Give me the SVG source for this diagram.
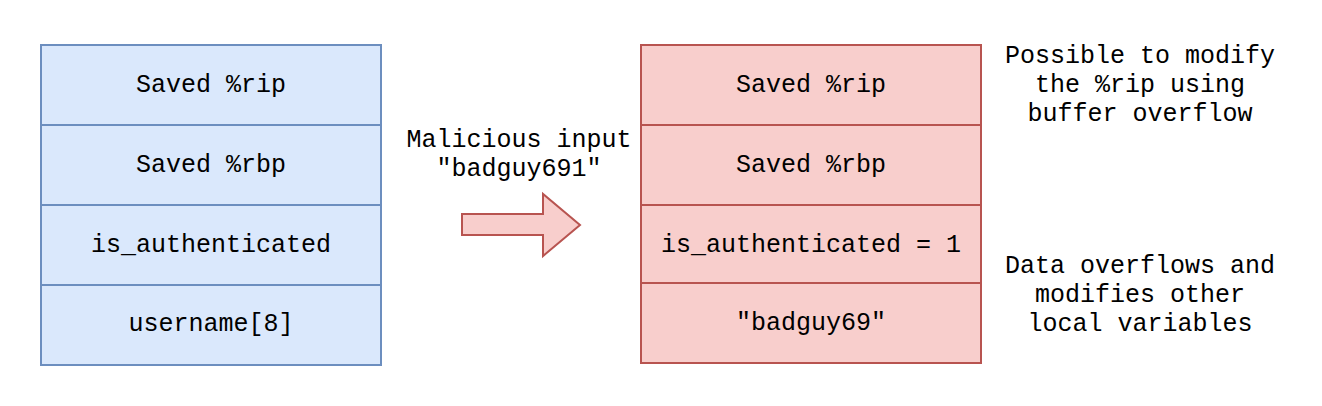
<svg xmlns="http://www.w3.org/2000/svg" width="1322" height="406" viewBox="0 0 1322 406">
<style>
.blue{fill:#dae8fc;stroke:#6c8ebf;stroke-width:2}
.red{fill:#f8cecc;stroke:#b85450;stroke-width:2}
text{font-family:"Liberation Mono","DejaVu Sans Mono",monospace;font-size:25px;fill:#000;text-anchor:middle}
</style>
<rect width="1322" height="406" fill="#ffffff"/>
<g id="stack-before">
<rect class="blue" x="41" y="45" width="340" height="80"/>
<rect class="blue" x="41" y="125" width="340" height="80"/>
<rect class="blue" x="41" y="205" width="340" height="80"/>
<rect class="blue" x="41" y="285" width="340" height="80"/>
<text x="211" y="92">Saved %rip</text>
<text x="211" y="172">Saved %rbp</text>
<text x="211" y="252">is_authenticated</text>
<text x="211" y="331">username[8]</text>
</g>
<g id="stack-after">
<rect class="red" x="641" y="45" width="340" height="80"/>
<rect class="red" x="641" y="125" width="340" height="80"/>
<rect class="red" x="641" y="205" width="340" height="78"/>
<rect class="red" x="641" y="283" width="340" height="80"/>
<text x="811" y="92">Saved %rip</text>
<text x="811" y="172">Saved %rbp</text>
<text x="811" y="252">is_authenticated = 1</text>
<text x="811" y="330">"badguy69"</text>
</g>
<g id="connectors">
<path class="red" d="M462 214 L543 214 L543 194 L580 225 L543 256 L543 235 L462 235 Z"/>
</g>
<g id="label-input">
<text x="519" y="147">Malicious input</text>
<text x="519" y="176">"badguy691"</text>
</g>
<g id="note-rip">
<text x="1140" y="63">Possible to modify</text>
<text x="1140" y="92">the %rip using</text>
<text x="1140" y="121">buffer overflow</text>
</g>
<g id="note-data">
<text x="1140" y="273">Data overflows and</text>
<text x="1140" y="302">modifies other</text>
<text x="1140" y="331">local variables</text>
</g>
</svg>
